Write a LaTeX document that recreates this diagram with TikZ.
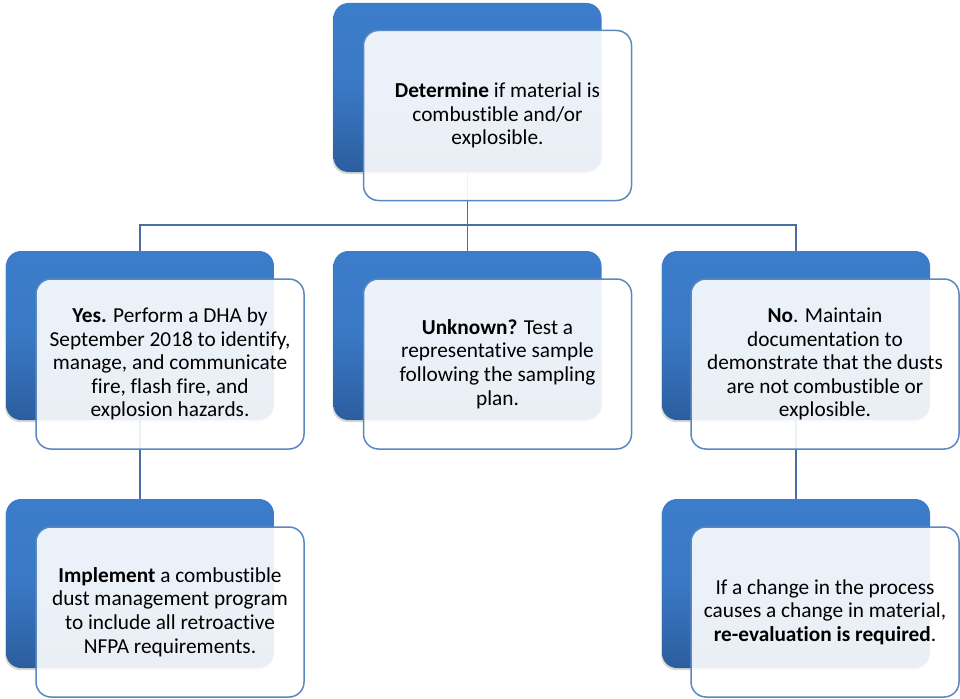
\documentclass[tikz,border=0pt]{standalone}
\usepackage{fontspec}
\setmainfont{Carlito}[Ligatures={NoCommon}]
\usetikzlibrary{shadows}
\definecolor{btop}{HTML}{3C7DCB}
\definecolor{bbot}{HTML}{2C5E9F}
\definecolor{fborder}{HTML}{5A88C2}
\definecolor{conncol}{HTML}{4A6FA5}
\tikzset{
  backbox/.style={rectangle, rounded corners=15pt, minimum width=268pt, minimum height=169pt,
    top color=btop, bottom color=bbot, middle color=btop!85!bbot,
    drop shadow={opacity=0.3, shadow xshift=-1pt, shadow yshift=-2pt}},
  frontbox/.style={rectangle, rounded corners=15pt, minimum width=268pt, minimum height=170pt,
    draw=fborder, line width=1.5pt, fill=white, fill opacity=0.9, text opacity=1,
    align=center, font=\fontsize{21.3}{23.6}\selectfont, text=black, inner sep=0pt},
  conn/.style={draw=conncol, line width=1.5pt}
}
\begin{document}
\begin{tikzpicture}[x=1pt,y=-1pt]
\useasboundingbox[fill=white] (0,0) rectangle (960,698);
% connector junction
\coordinate (j) at (467.5,225);
% back boxes
\node[backbox] (b1) at (467.5,87.5) {};
\node[backbox] (b2) at (140,335.5) {};
\node[backbox] (b3) at (467.5,335.5) {};
\node[backbox] (b4) at (796,335.5) {};
\node[backbox] (b5) at (140,583.5) {};
\node[backbox] (b6) at (796,583.5) {};
% connectors
\draw[conn] (b1.south) -- (j);
\draw[conn] (j) -| (b2.north);
\draw[conn] (j) -- (b3.north);
\draw[conn] (j) -| (b4.north);
\draw[conn] (b2.south) -- (b5.north);
\draw[conn] (b4.south) -- (b6.north);
% front boxes
\node[frontbox] (f1) at (497.5,115.5) {\textbf{Determine} if material is\\combustible and/or\\explosible.};
\node[frontbox] (f2) at (170,364) {\textbf{Yes.} Perform a DHA by\\September 2018 to identify,\\manage, and communicate\\fire, flash fire, and\\explosion hazards.};
\node[frontbox] (f3) at (497.5,364) {\textbf{Unknown?} Test a\\representative sample\\following the sampling\\plan.};
\node[frontbox] (f4) at (825,364) {\textbf{No}. Maintain\\documentation to\\demonstrate that the dusts\\are not combustible or\\explosible.};
\node[frontbox] (f5) at (170,612) {\textbf{Implement} a combustible\\dust management program\\to include all retroactive\\NFPA requirements.};
\node[frontbox] (f6) at (825,612) {If a change in the process\\causes a change in material,\\\textbf{re-evaluation is required}.};
\end{tikzpicture}
\end{document}
